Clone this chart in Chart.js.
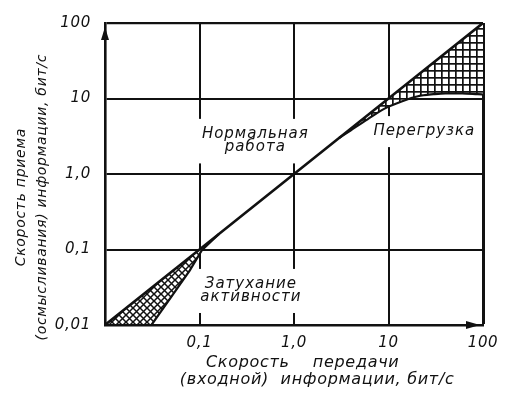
<!DOCTYPE html>
<html>
<head>
<meta charset="utf-8">
<script src="https://cdn.jsdelivr.net/npm/chart.js@4.4.1/dist/chart.umd.min.js"></script>
<style>
html,body{margin:0;padding:0;background:#fff;}
#wrap{width:525px;height:394px;position:relative;}
</style>
</head>
<body>
<div id="wrap"><canvas id="c" width="525" height="394"></canvas></div>
<script>
// ---- data ----
const diagonalX = [0.01, 0.1, 1, 10, 100];
const diagonalY = [0.01, 0.1, 1, 10, 100];
const lowCurveX = [0.01, 0.031, 0.052, 0.079, 0.106, 0.13, 0.16];
const lowCurveY = [0.01, 0.01, 0.025, 0.053, 0.098, 0.125, 0.16];
const highCurveX = [3, 4, 6, 9.2, 14, 20.5, 30, 40, 60, 88, 100];
const highCurveY = [3, 3.8, 5.3, 7.4, 9.2, 10.7, 11.4, 11.7, 11.7, 11.4, 11.3];
const xTickValues = [0.01, 0.1, 1, 10, 100];
const xTickLabels = ['', '0,1', '1,0', '10', '100'];
const yTickValues = [0.01, 0.1, 1, 10, 100];
const yTickLabels = ['0,01', '0,1', '1,0', '10', '100'];
const xTitle = ['   Скорость    передачи', '        (входной)  информации, бит/с'];
const yTitle = ['Скорость приема         ', '(осмысливания) информации, бит/с         '];
const regionLabels = [
  {lines: ['Нормальная', 'работа'], x: 0.39, y: [3.4, 2.25]},
  {lines: ['Перегрузка'], x: 24, y: [3.7]},
  {lines: ['Затухание', 'активности'], x: 0.35, y: [0.035, 0.0235]}
];

const FONT = '"DejaVu Sans", sans-serif';
const pts = (xs, ys) => xs.map((x, i) => ({x: x, y: ys[i]}));

const canvas = document.getElementById('c');
const mainCtx = canvas.getContext('2d');

function gridPattern() {
  const s = 7, t = document.createElement('canvas');
  t.width = s; t.height = s;
  const g = t.getContext('2d');
  g.fillStyle = '#fff'; g.fillRect(0, 0, s, s);
  g.fillStyle = '#111';
  g.fillRect(0, 0, s, 1.7);
  g.fillRect(0, 0, 1.7, s);
  return mainCtx.createPattern(t, 'repeat');
}
function diagPattern() {
  const s = 7, t = document.createElement('canvas');
  t.width = s; t.height = s;
  const g = t.getContext('2d');
  g.fillStyle = '#fff'; g.fillRect(0, 0, s, s);
  g.strokeStyle = '#111'; g.lineWidth = 1.5;
  g.beginPath();
  g.moveTo(-1, -1); g.lineTo(s + 1, s + 1);
  g.moveTo(-1, s + 1); g.lineTo(s + 1, -1);
  g.stroke();
  return mainCtx.createPattern(t, 'repeat');
}

function labelBoxes(chart) {
  const xs = chart.scales.x, ys = chart.scales.y;
  const ctx = chart.ctx;
  ctx.save();
  ctx.font = 'italic 15px ' + FONT;
  ctx.letterSpacing = '1px';
  const out = regionLabels.map(l => {
    const cx = xs.getPixelForValue(l.x);
    const cys = l.y.map(v => ys.getPixelForValue(v));
    const w = Math.max(...l.lines.map(s => ctx.measureText(s).width));
    return {l, cx, cys, w};
  });
  ctx.restore();
  return out;
}

const decor = {
  id: 'decor',
  beforeDraw(chart) {
    chart.ctx.letterSpacing = '0.7px';
  },
  beforeDatasetsDraw(chart) {
    const ctx = chart.ctx;
    ctx.save();
    ctx.fillStyle = '#fff';
    labelBoxes(chart).forEach(b => {
      const top = Math.min(...b.cys) - 15;
      const bot = Math.max(...b.cys) + 16;
      ctx.fillRect(b.cx - b.w / 2 - 5, top, b.w + 10, bot - top);
    });
    ctx.restore();
  },
  afterDraw(chart) {
    const ctx = chart.ctx;
    const a = chart.chartArea;
    ctx.save();
    ctx.font = 'italic 15px ' + FONT;
    ctx.letterSpacing = '1px';
    ctx.fillStyle = '#111';
    ctx.textAlign = 'center';
    ctx.textBaseline = 'middle';
    labelBoxes(chart).forEach(b => {
      b.l.lines.forEach((s, i) => ctx.fillText(s, b.cx, b.cys[i]));
    });
    // axis arrows
    ctx.beginPath();
    ctx.moveTo(a.left, a.top + 4);
    ctx.lineTo(a.left - 4, a.top + 17);
    ctx.lineTo(a.left + 4, a.top + 17);
    ctx.closePath();
    ctx.fill();
    ctx.beginPath();
    ctx.moveTo(a.right - 3, a.bottom);
    ctx.lineTo(a.right - 17, a.bottom - 4);
    ctx.lineTo(a.right - 17, a.bottom + 4);
    ctx.closePath();
    ctx.fill();
    ctx.restore();
    ctx.letterSpacing = '0px';
  }
};

new Chart(canvas, {
  type: 'line',
  data: {
    datasets: [
      {data: pts(diagonalX, diagonalY), borderColor: '#111', borderWidth: 2.6, pointRadius: 0, tension: 0, fill: false},
      {data: pts(lowCurveX, lowCurveY), borderColor: '#111', borderWidth: 2.2, pointRadius: 0, tension: 0,
       fill: {target: 0}, backgroundColor: diagPattern()},
      {data: pts(highCurveX, highCurveY), borderColor: '#111', borderWidth: 2.2, pointRadius: 0,
       cubicInterpolationMode: 'monotone', fill: {target: 0}, backgroundColor: gridPattern()}
    ]
  },
  options: {
    responsive: false,
    animation: false,
    devicePixelRatio: 1,
    layout: {padding: {top: 22, right: 42, left: 0, bottom: 0}},
    plugins: {
      legend: {display: false},
      tooltip: {enabled: false},
      filler: {drawTime: 'beforeDatasetDraw'}
    },
    scales: {
      x: {
        type: 'logarithmic', min: 0.01, max: 100,
        afterBuildTicks: s => { s.ticks = xTickValues.map(v => ({value: v})); },
        afterFit: s => { s.height = 69; },
        ticks: {
          autoSkip: false, maxRotation: 0, padding: 9, color: '#111',
          font: {family: FONT, size: 15, style: 'italic'},
          callback: (v, i) => xTickLabels[i]
        },
        grid: {color: '#111', lineWidth: c => (c.tick && c.tick.value === 100 ? 3 : 2), drawTicks: false},
        border: {display: true, color: '#111', width: 2.6},
        title: {display: true, text: xTitle, color: '#111', padding: {top: 0, bottom: 6},
          font: {family: FONT, size: 16, style: 'italic', lineHeight: 1.05}}
      },
      y: {
        type: 'logarithmic', min: 0.01, max: 100,
        afterBuildTicks: s => { s.ticks = yTickValues.map(v => ({value: v})); },
        afterFit: s => { s.width = 105; },
        ticks: {
          autoSkip: false, padding: 14, color: '#111',
          font: {family: FONT, size: 15, style: 'italic'},
          callback: (v, i) => yTickLabels[i]
        },
        grid: {color: '#111', lineWidth: c => (c.tick && c.tick.value === 100 ? 2.2 : 2), drawTicks: false},
        border: {display: true, color: '#111', width: 2.6},
        title: {display: true, text: yTitle, color: '#111', padding: {top: 11, bottom: 0},
          font: {family: FONT, size: 14, style: 'italic', lineHeight: 1.5}}
      }
    }
  },
  plugins: [decor]
});
</script>
</body>
</html>
